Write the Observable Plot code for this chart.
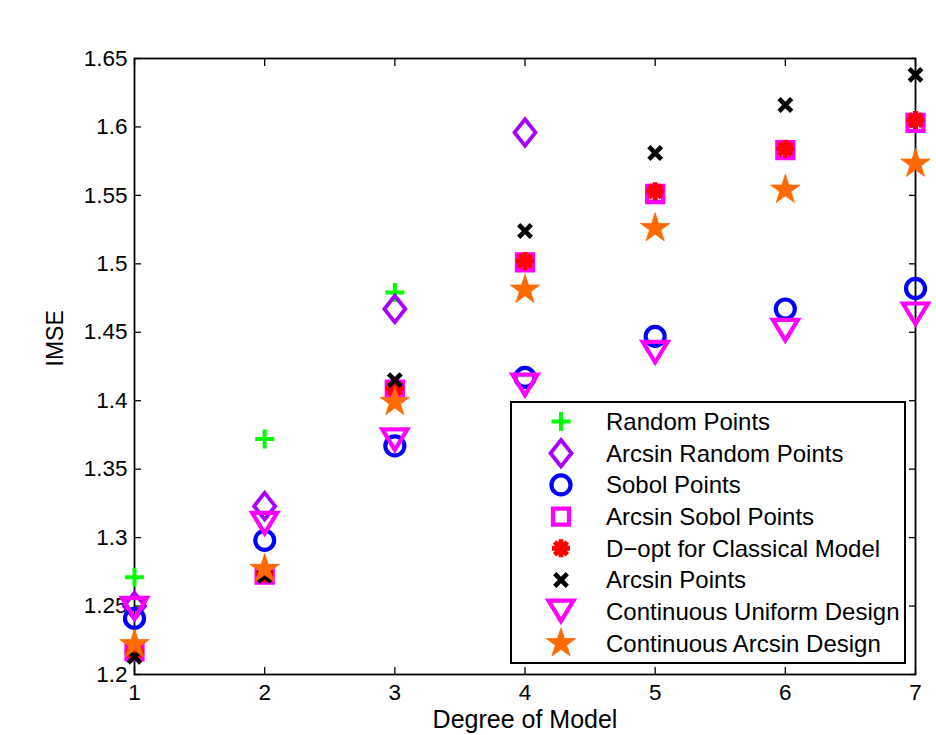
<!DOCTYPE html>
<html>
<head>
<meta charset="utf-8">
<script src="https://cdn.jsdelivr.net/npm/d3@7"></script>
<script src="https://cdn.jsdelivr.net/npm/@observablehq/plot@0.6"></script>
<style>
  html, body { margin: 0; padding: 0; background: white; }
  #wrap { position: relative; width: 936px; height: 735px; }
  #legend { position: absolute; left: 510px; top: 401px; }
</style>
</head>
<body>
<div id="wrap"></div>
<script>
// ---- data ----
const degrees = [1, 2, 3, 4, 5, 6, 7];
const yTicks = [1.2, 1.25, 1.3, 1.35, 1.4, 1.45, 1.5, 1.55, 1.6, 1.65];

const randomPoints       = [1.271, 1.372, 1.479, null, null, null, null];
const arcsinRandomPoints = [1.250, 1.323, 1.467, 1.596, null, null, null];
const sobolPoints        = [1.241, 1.298, 1.367, 1.417, 1.447, 1.467, 1.482];
const arcsinSobolPoints  = [1.217, 1.273, 1.408, 1.501, 1.551, 1.583, 1.603];
const dOptClassical      = [1.217, 1.274, 1.409, 1.502, 1.553, 1.584, 1.605];
const arcsinPoints       = [1.213, 1.272, 1.415, 1.524, 1.581, 1.616, 1.638];
const contUniform        = [1.248, 1.310, 1.371, 1.411, 1.435, 1.451, 1.463];
const contArcsin         = [1.222, 1.277, 1.399, 1.481, 1.526, 1.554, 1.573];

const seriesNames = [
  "Random Points", "Arcsin Random Points", "Sobol Points", "Arcsin Sobol Points",
  "D\u2212opt for Classical Model", "Arcsin Points",
  "Continuous Uniform Design", "Continuous Arcsin Design"
];
const seriesValues = [randomPoints, arcsinRandomPoints, sobolPoints, arcsinSobolPoints,
  dOptClassical, arcsinPoints, contUniform, contArcsin];

// ---- marker shapes (MATLAB-like) ----
const K = s => Math.sqrt(s / Math.PI) / 10;
const symPlus = { draw(c, s) { const k = K(s), a = 9.5 * k;
  c.moveTo(-a, 0); c.lineTo(a, 0); c.moveTo(0, -a); c.lineTo(0, a); } };
const symDiamond = { draw(c, s) { const k = K(s), w = 10.5 * k, h = 13.2 * k;
  c.moveTo(0, -h); c.lineTo(w, 0); c.lineTo(0, h); c.lineTo(-w, 0); c.closePath(); } };
const symCircle = { draw(c, s) { const k = K(s), r = 9.5 * k;
  c.moveTo(r, 0); c.arc(0, 0, r, 0, 2 * Math.PI); c.closePath(); } };
const symSquare = { draw(c, s) { const k = K(s), a = 8 * k;
  c.moveTo(-a, -a); c.lineTo(a, -a); c.lineTo(a, a); c.lineTo(-a, a); c.closePath(); } };
const symAster = { draw(c, s) { const k = K(s), a = 9 * k;
  for (let i = 0; i < 4; i++) { const t = i * Math.PI / 4;
    c.moveTo(-a * Math.cos(t), -a * Math.sin(t)); c.lineTo(a * Math.cos(t), a * Math.sin(t)); }
  } };
const symCross = { draw(c, s) { const k = K(s), a = 6.3 * k;
  c.moveTo(-a, -a); c.lineTo(a, a); c.moveTo(a, -a); c.lineTo(-a, a); } };
const symTriDown = { draw(c, s) { const k = K(s), w = 12.5 * k;
  c.moveTo(-w, -11 * k); c.lineTo(w, -11 * k); c.lineTo(0, 9.5 * k); c.closePath(); } };
const symStar = { draw(c, s) { const k = K(s), R = 15.5 * k, r = R * 0.382;
  for (let i = 0; i < 10; i++) { const rad = i % 2 ? r : R; const t = -Math.PI / 2 + i * Math.PI / 5;
    const x = rad * Math.cos(t), y = rad * Math.sin(t); i ? c.lineTo(x, y) : c.moveTo(x, y); }
  c.closePath(); } };

const styles = [
  { symbol: symPlus,    fill: "none",    stroke: "#00ff00", strokeWidth: 4 },
  { symbol: symDiamond, fill: "none",    stroke: "#a800ff", strokeWidth: 3.8 },
  { symbol: symCircle,  fill: "none",    stroke: "#0000ff", strokeWidth: 4.2 },
  { symbol: symSquare,  fill: "none",    stroke: "#ff00ff", strokeWidth: 4.3 },
  { symbol: symAster,   fill: "none",    stroke: "#ff0000", strokeWidth: 5 },
  { symbol: symCross,   fill: "none",    stroke: "#000000", strokeWidth: 4.6 },
  { symbol: symTriDown, fill: "none",    stroke: "#ff00ff", strokeWidth: 4.2 },
  { symbol: symStar,    fill: "#ff6a00", stroke: "#ff6a00", strokeWidth: 0.8 }
];

const rows = arr => degrees.map((d, i) => ({ x: d, y: arr[i] })).filter(r => r.y != null);

const font = "'Liberation Sans', Arial, Helvetica, sans-serif";

const chart = Plot.plot({
  width: 936, height: 735,
  marginLeft: 134, marginRight: 21, marginTop: 58, marginBottom: 61,
  style: { fontFamily: font, fontSize: "22.5px", background: "white", color: "black", overflow: "visible" },
  x: { domain: [1, 7] },
  y: { domain: [1.2, 1.65] },
  marks: [
    Plot.frame({ stroke: "black", strokeWidth: 1.8 }),
    Plot.axisX(degrees, { anchor: "bottom", tickSize: -7, tickPadding: 17, label: null, tickFormat: d => String(d), fontSize: 22.5, strokeWidth: 1.3 }),
    Plot.axisX(degrees, { anchor: "top", tickSize: -7, label: null, tickFormat: () => "", strokeWidth: 1.3 }),
    Plot.axisY(yTicks, { anchor: "left", tickSize: -7, tickPadding: 14, label: null, tickFormat: d => String(d), fontSize: 22.5, strokeWidth: 1.3 }),
    Plot.axisY(yTicks, { anchor: "right", tickSize: -7, label: null, tickFormat: () => "", strokeWidth: 1.3 }),
    Plot.text(["Degree of Model"], { frameAnchor: "bottom", dy: 45, fontSize: 25, lineAnchor: "middle" }),
    Plot.text(["IMSE"], { frameAnchor: "left", dx: -79, rotate: -90, fontSize: 23, lineAnchor: "middle" }),
    ...seriesValues.map((arr, i) => Plot.dot(rows(arr), {
      x: "x", y: "y", r: 10,
      symbol: styles[i].symbol, fill: styles[i].fill, stroke: styles[i].stroke,
      strokeWidth: styles[i].strokeWidth, strokeLinejoin: "miter", strokeLinecap: "butt"
    }))
  ]
});

const wrap = document.getElementById("wrap");
wrap.appendChild(chart);

// ---- legend (inside plot area, lower-right) ----
const lw = 396, lh = 263;
const leg = d3.select(wrap).append("svg")
  .attr("id", "legend").attr("width", lw).attr("height", lh)
  .style("font-family", font).style("font-size", "24px");
leg.append("rect").attr("x", 1).attr("y", 1).attr("width", lw - 2).attr("height", lh - 2)
  .attr("fill", "white").attr("stroke", "black").attr("stroke-width", 2);
seriesNames.forEach((name, i) => {
  const cy = 20.5 + i * 31.7;
  const st = styles[i];
  leg.append("path")
    .attr("transform", `translate(51,${cy})`)
    .attr("d", d3.symbol(st.symbol, Math.PI * 100)())
    .attr("fill", st.fill).attr("stroke", st.stroke).attr("stroke-width", st.strokeWidth)
    .attr("stroke-linejoin", "miter").attr("stroke-linecap", "butt");
  leg.append("text").attr("x", 96).attr("y", cy).attr("dy", "0.35em").attr("fill", "black").text(name);
});
</script>
</body>
</html>
